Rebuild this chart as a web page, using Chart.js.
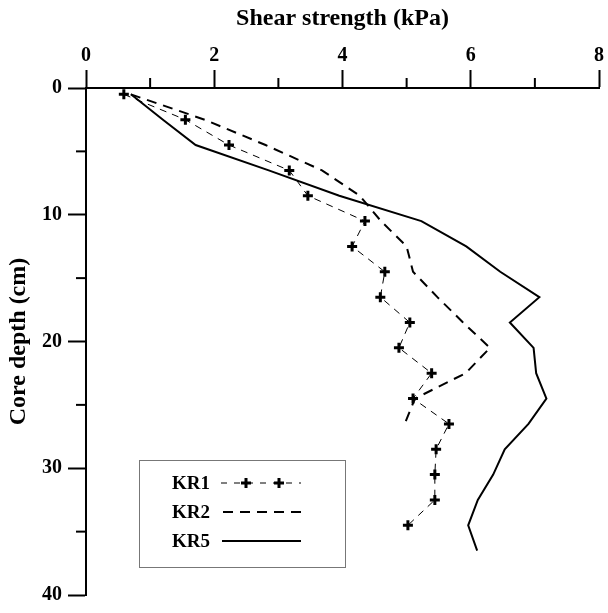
<!DOCTYPE html>
<html>
<head>
<meta charset="utf-8">
<script src="https://cdn.jsdelivr.net/npm/chart.js@4.4.1/dist/chart.umd.min.js"></script>
<style>
  html, body { margin: 0; padding: 0; background: #fff; }
  #wrap { width: 608px; height: 613px; }
</style>
</head>
<body>
<div id="wrap"><canvas id="shearChart" width="608" height="613"></canvas></div>
<script>
// Depths (cm) and shear strength (kPa)
const depthKR1 = [0.5, 2.5, 4.5, 6.5, 8.5, 10.5, 12.5, 14.5, 16.5, 18.5, 20.5, 22.5, 24.5, 26.5, 28.5, 30.5, 32.5, 34.5];
const shearKR1 = [0.59, 1.55, 2.23, 3.17, 3.46, 4.35, 4.15, 4.66, 4.59, 5.05, 4.88, 5.39, 5.10, 5.66, 5.46, 5.44, 5.44, 5.02];

const depthKR2 = [0.5, 2.5, 4.5, 6.5, 8.5, 10.5, 12.5, 14.5, 16.5, 18.5, 20.5, 22.5, 24.5, 26.5];
const shearKR2 = [0.7, 1.85, 2.8, 3.68, 4.27, 4.6, 5.0, 5.1, 5.48, 5.88, 6.3, 5.92, 5.13, 4.97];

const depthKR5 = [0.5, 2.5, 4.5, 6.5, 8.5, 10.5, 12.5, 14.5, 16.5, 18.5, 20.5, 22.5, 24.5, 26.5, 28.5, 30.5, 32.5, 34.5, 36.5];
const shearKR5 = [0.7, 1.2, 1.71, 2.85, 3.95, 5.23, 5.93, 6.46, 7.07, 6.61, 6.98, 7.02, 7.18, 6.9, 6.53, 6.35, 6.11, 5.96, 6.1];

const xTicks = [0, 2, 4, 6, 8];
const yTicks = [0, 10, 20, 30, 40];
const xMinor = [1, 3, 5, 7];
const yMinor = [5, 15, 25, 35];

const legendLabels = ['KR1', 'KR2', 'KR5'];

const serif = '"Liberation Serif", "Times New Roman", serif';

function toPoints(xs, ys) {
  return xs.map((v, i) => ({ x: v, y: ys[i] }));
}

// Short minor ticks and the boxed legend inside the plot
const extras = {
  id: 'extras',
  afterDraw(chart) {
    const ctx = chart.ctx;
    const xs = chart.scales.x;
    const ys = chart.scales.y;
    ctx.save();
    ctx.strokeStyle = '#000';
    ctx.lineWidth = 2;
    xMinor.forEach((v) => {
      const px = xs.getPixelForValue(v);
      ctx.beginPath();
      ctx.moveTo(px, ys.top);
      ctx.lineTo(px, ys.top - 10);
      ctx.stroke();
    });
    yMinor.forEach((v) => {
      const py = ys.getPixelForValue(v);
      ctx.beginPath();
      ctx.moveTo(xs.left, py);
      ctx.lineTo(xs.left - 10, py);
      ctx.stroke();
    });

    // legend box
    ctx.strokeStyle = '#777';
    ctx.lineWidth = 1;
    ctx.strokeRect(139.5, 460.5, 206, 107);

    ctx.fillStyle = '#000';
    ctx.font = 'bold 19px ' + serif;
    ctx.textAlign = 'right';
    ctx.textBaseline = 'middle';
    const rows = [483, 512, 541];
    legendLabels.forEach((t, i) => ctx.fillText(t, 210, rows[i] + 1));

    ctx.strokeStyle = '#000';
    // KR1 sample
    ctx.lineWidth = 1;
    ctx.setLineDash([6, 7]);
    ctx.beginPath();
    ctx.moveTo(221, rows[0]);
    ctx.lineTo(301, rows[0]);
    ctx.stroke();
    ctx.setLineDash([]);
    ctx.lineWidth = 3;
    [246, 279].forEach((cx) => {
      ctx.beginPath();
      ctx.moveTo(cx - 5, rows[0]);
      ctx.lineTo(cx + 5, rows[0]);
      ctx.moveTo(cx, rows[0] - 5);
      ctx.lineTo(cx, rows[0] + 5);
      ctx.stroke();
    });
    // KR2 sample
    ctx.lineWidth = 2;
    ctx.setLineDash([10, 7]);
    ctx.beginPath();
    ctx.moveTo(223, rows[1]);
    ctx.lineTo(301, rows[1]);
    ctx.stroke();
    // KR5 sample
    ctx.setLineDash([]);
    ctx.beginPath();
    ctx.moveTo(222, rows[2]);
    ctx.lineTo(301, rows[2]);
    ctx.stroke();
    ctx.restore();
  },
};

new Chart(document.getElementById('shearChart'), {
  type: 'scatter',
  data: {
    datasets: [
      {
        label: 'KR1',
        data: toPoints(shearKR1, depthKR1),
        showLine: true,
        borderColor: '#000',
        borderWidth: 1,
        borderDash: [7, 6],
        pointStyle: 'cross',
        pointRadius: 5,
        pointBorderWidth: 3,
        pointBorderColor: '#000',
      },
      {
        label: 'KR2',
        data: toPoints(shearKR2, depthKR2),
        showLine: true,
        borderColor: '#000',
        borderWidth: 2,
        borderDash: [10, 7],
        pointRadius: 0,
      },
      {
        label: 'KR5',
        data: toPoints(shearKR5, depthKR5),
        showLine: true,
        borderColor: '#000',
        borderWidth: 2,
        pointRadius: 0,
      },
    ],
  },
  options: {
    responsive: false,
    animation: false,
    layout: { padding: { left: 0, top: 0, right: 9, bottom: 12 } },
    plugins: {
      legend: { display: false },
      tooltip: { enabled: false },
    },
    scales: {
      x: {
        type: 'linear',
        position: 'top',
        min: 0,
        max: 8,
        afterBuildTicks: (scale) => { scale.ticks = xTicks.map((v) => ({ value: v })); },
        afterFit: (scale) => { scale.height = 88; },
        ticks: {
          color: '#000',
          padding: 2,
          maxRotation: 0,
          font: { family: serif, size: 20, weight: 'bold' },
        },
        grid: { drawOnChartArea: false, tickLength: 18, tickWidth: 2, tickColor: '#000' },
        border: { color: '#000', width: 2 },
        title: {
          display: true,
          text: 'Shear strength (kPa)',
          color: '#000',
          padding: { top: 4, bottom: 0 },
          font: { family: serif, size: 24, weight: 'bold' },
        },
      },
      y: {
        type: 'linear',
        reverse: true,
        min: 0,
        max: 40,
        afterBuildTicks: (scale) => { scale.ticks = yTicks.map((v) => ({ value: v })); },
        afterFit: (scale) => { scale.width = 86; },
        ticks: {
          color: '#000',
          padding: 6,
          font: { family: serif, size: 20, weight: 'bold' },
        },
        grid: { drawOnChartArea: false, tickLength: 18, tickWidth: 2, tickColor: '#000' },
        border: { color: '#000', width: 2 },
        title: {
          display: true,
          text: 'Core depth (cm)',
          color: '#000',
          padding: { top: 4, bottom: 0 },
          font: { family: serif, size: 24, weight: 'bold' },
        },
      },
    },
  },
  plugins: [extras],
});
</script>
</body>
</html>
